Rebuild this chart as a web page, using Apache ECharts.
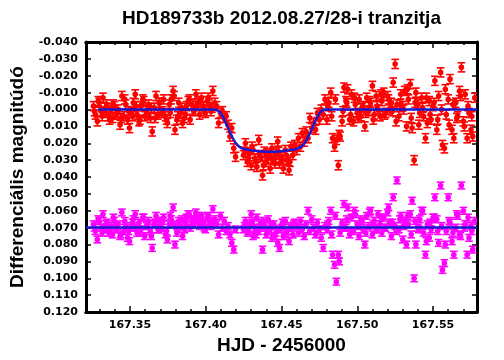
<!DOCTYPE html>
<html lang="hu">
<head>
<meta charset="UTF-8">
<title>HD189733b tranzit</title>
<script src="https://cdn.jsdelivr.net/npm/echarts@6/dist/echarts.min.js"></script>
<style>
  html, body { margin: 0; padding: 0; background: #fff; }
  #chart { width: 504px; height: 360px; }
</style>
</head>
<body>
<div id="chart"></div>
<script>
// observation times (HJD - 2456000), shared by both stars
const hjd = [
  167.3260, 167.3272, 167.3285, 167.3297, 167.3310, 167.3322, 167.3335, 167.3347, 167.3360, 167.3372,
  167.3385, 167.3397, 167.3410, 167.3422, 167.3435, 167.3447, 167.3460, 167.3472, 167.3485, 167.3497,
  167.3510, 167.3522, 167.3535, 167.3547, 167.3560, 167.3572, 167.3585, 167.3597, 167.3610, 167.3622,
  167.3635, 167.3647, 167.3660, 167.3672, 167.3685, 167.3697, 167.3710, 167.3722, 167.3735, 167.3747,
  167.3760, 167.3772, 167.3785, 167.3797, 167.3810, 167.3822, 167.3835, 167.3847, 167.3860, 167.3872,
  167.3885, 167.3897, 167.3910, 167.3922, 167.3935, 167.3947, 167.3960, 167.3972, 167.3985, 167.3997,
  167.4010, 167.4022, 167.4035, 167.4047, 167.4060,
  167.4072, 167.4085, 167.4097, 167.4110, 167.4122, 167.4135, 167.4147, 167.4160, 167.4172, 167.4185, 167.4197,
  167.4250, 167.4262, 167.4275, 167.4287, 167.4300, 167.4312, 167.4325, 167.4337, 167.4350, 167.4362,
  167.4375, 167.4387, 167.4400, 167.4412, 167.4425, 167.4437, 167.4450, 167.4462, 167.4475, 167.4487,
  167.4500, 167.4512, 167.4525, 167.4537, 167.4550, 167.4562, 167.4575, 167.4587,
  167.4600, 167.4612, 167.4625, 167.4637, 167.4650, 167.4662, 167.4675, 167.4687, 167.4700, 167.4712,
  167.4725, 167.4737, 167.4750, 167.4762, 167.4775, 167.4787,
  167.4800, 167.4812, 167.4825, 167.4837, 167.4850, 167.4862, 167.4875, 167.4887, 167.4900, 167.4912,
  167.4925, 167.4937, 167.4950, 167.4962, 167.4975, 167.4987, 167.5000, 167.5012, 167.5025, 167.5037,
  167.5050, 167.5062, 167.5075, 167.5087, 167.5100, 167.5112, 167.5125, 167.5137, 167.5150, 167.5162,
  167.5175, 167.5187, 167.5200, 167.5212, 167.5225, 167.5237, 167.5250, 167.5262, 167.5275, 167.5287,
  167.5300, 167.5312, 167.5325, 167.5337, 167.5350, 167.5362, 167.5375, 167.5387, 167.5400, 167.5412,
  167.5425, 167.5437, 167.5450, 167.5462, 167.5475, 167.5487, 167.5500, 167.5512, 167.5525, 167.5537,
  167.5550, 167.5562, 167.5575, 167.5587, 167.5600, 167.5612, 167.5625, 167.5637, 167.5650, 167.5662,
  167.5675, 167.5687, 167.5700, 167.5712, 167.5725, 167.5737, 167.5750, 167.5762, 167.5775,
  // second set of frames
  167.3266, 167.3291, 167.3316, 167.3341, 167.3366, 167.3391, 167.3416, 167.3441, 167.3466, 167.3491,
  167.3516, 167.3541, 167.3566, 167.3591, 167.3616, 167.3641, 167.3666, 167.3691, 167.3716, 167.3741,
  167.3766, 167.3791, 167.3816, 167.3841, 167.3866, 167.3891, 167.3916, 167.3941, 167.3966, 167.3991,
  167.4016, 167.4041,
  167.4256, 167.4281, 167.4306, 167.4331, 167.4356, 167.4381, 167.4406, 167.4431, 167.4456, 167.4481,
  167.4506, 167.4531, 167.4556, 167.4581,
  167.4806, 167.4831, 167.4856, 167.4881, 167.4906, 167.4931, 167.4956, 167.4981, 167.5006, 167.5031,
  167.5056, 167.5081, 167.5106, 167.5131, 167.5156, 167.5181, 167.5206, 167.5231, 167.5256, 167.5281,
  167.5306, 167.5331, 167.5356, 167.5381, 167.5406, 167.5431, 167.5456, 167.5481, 167.5506, 167.5531,
  167.5556, 167.5581, 167.5606, 167.5631, 167.5656, 167.5681, 167.5706, 167.5731, 167.5756
];

// HD189733 differential magnitude (red)
const redMag = [
  -0.002, 0.003, 0.007, -0.004, 0.001, -0.007, 0.002, -0.003, 0.004, -0.001,
  0.005, -0.002, 0.003, 0.000, 0.009, -0.008, 0.004, -0.003, 0.006, 0.011,
  0.002, -0.004, -0.009, 0.003, 0.007, -0.002, -0.006, 0.004, 0.001, -0.003,
  0.005, 0.013, -0.001, -0.008, 0.003, -0.004, 0.002, -0.006, 0.004, 0.008,
  -0.003, -0.006, -0.011, 0.012, 0.006, -0.004, 0.002, 0.008, 0.005, -0.002,
  -0.005, 0.006, -0.003, 0.001, -0.009, -0.004, 0.003, -0.007, -0.002, 0.002,
  -0.005, -0.003, 0.001, -0.011, -0.004,
  -0.002, 0.008, 0.002, 0.001, 0.005, 0.004, 0.009, 0.016, 0.011, 0.023, 0.028,
  0.027, 0.020, 0.031, 0.026, 0.033, 0.024, 0.029, 0.034, 0.018, 0.028,
  0.039, 0.025, 0.031, 0.027, 0.035, 0.023, 0.030, 0.026, 0.019, 0.032,
  0.028, 0.035, 0.024, 0.030, 0.036, 0.022, 0.027, 0.021,
  0.024, 0.017, 0.022, 0.014, 0.019, 0.013, 0.017, 0.005, 0.011, 0.008,
  0.012, 0.002, 0.006, 0.000, 0.003, -0.006,
  0.006, -0.004, -0.010, 0.017, 0.022, 0.018, 0.033, 0.016, 0.007, -0.013,
  -0.005, -0.012, 0.006, -0.009, 0.007, -0.003, 0.002, -0.006, 0.004, -0.002,
  0.010, -0.007, 0.001, -0.004, -0.014, 0.003, -0.008, 0.000, 0.004, -0.005,
  -0.010, 0.002, -0.008, 0.000, -0.004, -0.016, -0.027, -0.003, 0.004, -0.009,
  -0.002, -0.011, 0.010, -0.006, -0.015, 0.011, 0.030, -0.010, -0.003, 0.002,
  -0.007, 0.004, 0.017, 0.008, -0.005, 0.006, -0.002, -0.017, 0.012, -0.008,
  -0.022, 0.021, 0.023, 0.003, -0.006, -0.018, 0.012, 0.017, -0.004, 0.004,
  -0.011, -0.025, 0.007, -0.009, 0.017, 0.002, 0.012, 0.016, -0.007,
  // second set of frames
  0.001, -0.005, 0.004, -0.001, 0.006, -0.003, 0.002, 0.005, -0.006, 0.001,
  0.004, -0.002, 0.006, -0.005, 0.003, -0.001, 0.005, -0.004, 0.001, 0.006,
  0.002, -0.008, 0.004, -0.001, 0.003, -0.006, 0.000, -0.002, -0.005, 0.001,
  -0.007, -0.001,
  0.025, 0.029, 0.022, 0.031, 0.027, 0.033, 0.026, 0.029, 0.032, 0.025,
  0.030, 0.027, 0.031, 0.024,
  -0.002, 0.004, -0.006, 0.015, 0.001, -0.004, 0.003, -0.007, 0.005, -0.001,
  0.002, -0.005, 0.006, -0.002, -0.009, 0.003, -0.006, 0.001, 0.007, -0.003,
  0.000, -0.012, 0.005, -0.004, 0.009, -0.001, -0.007, 0.003, -0.004, 0.006,
  0.000, -0.012, 0.009, -0.003, 0.005, -0.008, 0.010, -0.002, 0.004
];

// check star differential magnitude (magenta)
const violetMag = [
  0.068, 0.072, 0.077, 0.066, 0.070, 0.062, 0.071, 0.067, 0.073, 0.069,
  0.074, 0.066, 0.071, 0.068, 0.075, 0.061, 0.072, 0.069, 0.076, 0.078,
  0.070, 0.065, 0.062, 0.073, 0.067, 0.071, 0.064, 0.075, 0.069, 0.066,
  0.072, 0.082, 0.068, 0.063, 0.071, 0.066, 0.070, 0.064, 0.074, 0.077,
  0.068, 0.065, 0.058, 0.080, 0.073, 0.066, 0.069, 0.075, 0.071, 0.064,
  0.062, 0.070, 0.065, 0.068, 0.061, 0.066, 0.069, 0.063, 0.067, 0.071,
  0.064, 0.066, 0.069, 0.059, 0.065,
  0.068, 0.074, 0.063, 0.070, 0.066, 0.072, 0.069, 0.074, 0.079, 0.083, 0.071,
  0.071, 0.066, 0.073, 0.068, 0.062, 0.075, 0.070, 0.064, 0.072, 0.067,
  0.083, 0.069, 0.074, 0.065, 0.071, 0.076, 0.068, 0.073, 0.079, 0.082,
  0.070, 0.075, 0.066, 0.072, 0.078, 0.069, 0.074, 0.067,
  0.069, 0.073, 0.066, 0.071, 0.075, 0.068, 0.060, 0.072, 0.065, 0.070,
  0.074, 0.067, 0.071, 0.076, 0.082, 0.069,
  0.071, 0.066, 0.060, 0.086, 0.092, 0.102, 0.086, 0.073, 0.067, 0.056,
  0.070, 0.058, 0.074, 0.064, 0.072, 0.062, 0.068, 0.075, 0.065, 0.071,
  0.080, 0.063, 0.069, 0.060, 0.074, 0.066, 0.071, 0.062, 0.068, 0.073,
  0.064, 0.070, 0.061, 0.067, 0.075, 0.052, 0.069, 0.042, 0.071, 0.063,
  0.077, 0.066, 0.080, 0.068, 0.062, 0.054, 0.100, 0.080, 0.070, 0.065,
  0.060, 0.073, 0.086, 0.068, 0.076, 0.071, 0.064, 0.052, 0.065, 0.079,
  0.045, 0.095, 0.091, 0.072, 0.052, 0.067, 0.078, 0.086, 0.070, 0.063,
  0.074, 0.045, 0.060, 0.068, 0.086, 0.076, 0.069, 0.083, 0.066,
  // second set of frames
  0.070, 0.065, 0.073, 0.068, 0.071, 0.064, 0.069, 0.074, 0.066, 0.072,
  0.067, 0.070, 0.073, 0.064, 0.069, 0.075, 0.067, 0.071, 0.066, 0.072,
  0.063, 0.068, 0.070, 0.065, 0.067, 0.062, 0.068, 0.064, 0.066, 0.070,
  0.063, 0.067,
  0.069, 0.072, 0.067, 0.074, 0.070, 0.066, 0.072, 0.068, 0.075, 0.071,
  0.067, 0.073, 0.070, 0.068,
  0.068, 0.074, 0.063, 0.090, 0.070, 0.065, 0.072, 0.060, 0.069, 0.066,
  0.073, 0.061, 0.068, 0.071, 0.064, 0.070, 0.058, 0.067, 0.072, 0.065,
  0.069, 0.063, 0.074, 0.066, 0.071, 0.060, 0.078, 0.067, 0.064, 0.072,
  0.069, 0.080, 0.066, 0.073, 0.062, 0.075, 0.070, 0.064, 0.072
];

const redErr = 0.0027;
const violetErr = 0.002;

// fitted transit model
const modelHjd = [
  167.3289, 167.4060, 167.4075, 167.4090, 167.4105, 167.4120, 167.4135, 167.4150, 167.4165, 167.4180,
  167.4195, 167.4210, 167.4225, 167.4240, 167.4260, 167.4300, 167.4350, 167.4400, 167.4450, 167.4500,
  167.4550, 167.4590, 167.4610, 167.4625, 167.4640, 167.4655, 167.4670, 167.4685, 167.4700, 167.4715,
  167.4730, 167.4745, 167.4760, 167.4775, 167.4790, 167.5790
];
const modelMag = [
  0.000, 0.000, 0.0003, 0.0012, 0.0030, 0.0055, 0.0085, 0.0115, 0.0145, 0.0172,
  0.0195, 0.0212, 0.0223, 0.0230, 0.0235, 0.0241, 0.0247, 0.0250, 0.0250, 0.0247,
  0.0241, 0.0235, 0.0230, 0.0223, 0.0212, 0.0195, 0.0172, 0.0145, 0.0115, 0.0085,
  0.0055, 0.0030, 0.0012, 0.0003, 0.000, 0.000
];
const checkLevel = 0.070;

const majorTicks = [167.35, 167.40, 167.45, 167.50, 167.55];
const minorTicks = [167.33, 167.34, 167.36, 167.37, 167.38, 167.39, 167.41, 167.42, 167.43, 167.44,
  167.46, 167.47, 167.48, 167.49, 167.51, 167.52, 167.53, 167.54, 167.56, 167.57];

const X_MIN = 167.321, X_MAX = 167.579;
const labelFont = { fontFamily: 'DejaVu Sans', fontWeight: 'bold', fontSize: 11, color: '#000' };
const nameFont = { fontFamily: 'Liberation Sans', fontWeight: 'bold', fontSize: 19, color: '#000' };
const frame = { show: true, onZero: false, lineStyle: { color: '#000', width: 3 } };

function errorBars(color, err, stemWidth) {
  return function (params, api) {
    const x = api.value(0), y = api.value(1);
    const c = api.coord([x, y]);
    const hi = api.coord([x, y - err]);
    const lo = api.coord([x, y + err]);
    const w = 3.8;
    const st = { stroke: color, lineWidth: 1.6 };
    return {
      type: 'group',
      children: [
        { type: 'line', shape: { x1: c[0], y1: hi[1], x2: c[0], y2: lo[1] }, style: { stroke: color, lineWidth: stemWidth } },
        { type: 'line', shape: { x1: c[0] - w, y1: hi[1], x2: c[0] + w, y2: hi[1] }, style: st },
        { type: 'line', shape: { x1: c[0] - w, y1: lo[1], x2: c[0] + w, y2: lo[1] }, style: st },
        { type: 'circle', shape: { cx: c[0], cy: c[1], r: 2.8 }, style: { fill: color } }
      ]
    };
  };
}

function xAxisDef(position, ticks, len, withLabels) {
  return {
    type: 'value', position: position, min: X_MIN, max: X_MAX,
    axisLine: frame,
    axisTick: { show: true, inside: true, length: len, customValues: ticks, lineStyle: { color: '#000', width: 1.5 } },
    axisLabel: withLabels
      ? Object.assign({ show: true, margin: 8, customValues: ticks, formatter: v => v.toFixed(2) }, labelFont)
      : { show: false },
    splitLine: { show: false }
  };
}

function yAxisDef(position, withLabels) {
  return {
    type: 'value', position: position, inverse: true, min: -0.04, max: 0.12, interval: 0.01,
    axisLine: frame,
    axisTick: { show: true, inside: true, length: 5, lineStyle: { color: '#000', width: 1.5 } },
    axisLabel: withLabels
      ? Object.assign({ show: true, margin: 8, formatter: v => (Math.abs(v) < 1e-9 ? 0 : v).toFixed(3) }, labelFont)
      : { show: false },
    splitLine: { show: false }
  };
}

const chart = echarts.init(document.getElementById('chart'));

const xMain = xAxisDef('bottom', majorTicks, 6, true);
xMain.name = 'HJD - 2456000';
xMain.nameLocation = 'middle';
xMain.nameGap = 15;
xMain.nameTextStyle = nameFont;

const yMain = yAxisDef('left', true);
yMain.name = 'Differenciális magnitúdó';
yMain.nameLocation = 'middle';
yMain.nameGap = 52;
yMain.nameTextStyle = nameFont;

chart.setOption({
  animation: false,
  backgroundColor: '#fff',
  title: {
    text: 'HD189733b 2012.08.27/28-i tranzitja',
    left: 122, top: 9, padding: 0,
    textStyle: nameFont
  },
  grid: { left: 86, right: 27, top: 42, bottom: 44 },
  xAxis: [
    xMain,
    xAxisDef('top', majorTicks, 6, false),
    xAxisDef('bottom', minorTicks, 3, false),
    xAxisDef('top', minorTicks, 3, false)
  ],
  yAxis: [yMain, yAxisDef('right', false)],
  series: [
    {
      type: 'custom', name: 'check', clip: true,
      data: hjd.map((t, i) => [t, violetMag[i]]),
      renderItem: errorBars('#ff00ff', violetErr, 1),
      z: 2,
      markLine: {
        silent: true, symbol: 'none', label: { show: false },
        lineStyle: { color: '#1a1ad0', width: 2.5, type: 'solid' },
        data: [{ yAxis: checkLevel }],
        z: 5
      }
    },
    {
      type: 'custom', name: 'HD189733', clip: true,
      data: hjd.map((t, i) => [t, redMag[i]]),
      renderItem: errorBars('#ff0000', redErr, 1.6),
      z: 3
    },
    {
      type: 'line', name: 'model',
      data: modelHjd.map((t, i) => [t, modelMag[i]]),
      showSymbol: false, symbol: 'none',
      lineStyle: { color: '#1a1ad0', width: 2.5 },
      z: 5
    }
  ]
});
</script>
</body>
</html>
